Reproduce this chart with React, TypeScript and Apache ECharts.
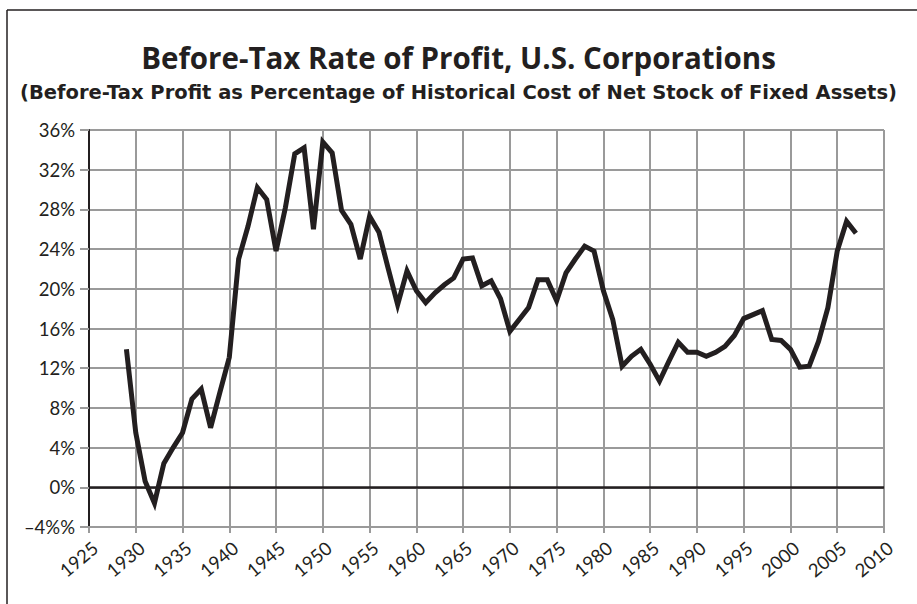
import React, { useEffect, useRef } from "react";
import * as echarts from "echarts";

const years: number[] = [
  1929, 1930, 1931, 1932, 1933, 1934, 1935, 1936, 1937, 1938, 1939, 1940,
  1941, 1942, 1943, 1944, 1945, 1946, 1947, 1948, 1949, 1950, 1951, 1952,
  1953, 1954, 1955, 1956, 1957, 1958, 1959, 1960, 1961, 1962, 1963, 1964,
  1965, 1966, 1967, 1968, 1969, 1970, 1971, 1972, 1973, 1974, 1975, 1976,
  1977, 1978, 1979, 1980, 1981, 1982, 1983, 1984, 1985, 1986, 1987, 1988,
  1989, 1990, 1991, 1992, 1993, 1994, 1995, 1996, 1997, 1998, 1999, 2000,
  2001, 2002, 2003, 2004, 2005, 2006, 2007,
];

const profitRate: number[] = [
  13.9, 5.5, 0.6, -1.6, 2.4, 4.0, 5.5, 8.9, 9.9, 6.0, 9.6, 13.1,
  23.0, 26.3, 30.2, 29.0, 23.8, 28.2, 33.6, 34.2, 26.0, 34.8, 33.7, 27.9,
  26.5, 23.0, 27.3, 25.7, 22.0, 18.4, 21.8, 19.8, 18.6, 19.6, 20.4, 21.1,
  23.0, 23.1, 20.3, 20.8, 19.0, 15.7, 16.9, 18.1, 20.9, 20.9, 18.8, 21.6,
  23.0, 24.3, 23.8, 19.8, 16.9, 12.2, 13.2, 13.9, 12.4, 10.7, 12.7, 14.6,
  13.6, 13.6, 13.2, 13.6, 14.2, 15.3, 17.0, 17.4, 17.8, 14.9, 14.8, 13.9,
  12.1, 12.2, 14.7, 18.1, 23.8, 26.8, 25.6,
];

const yTickValues: number[] = [-4, 0, 4, 8, 12, 16, 20, 24, 28, 32, 36];
const yTickLabels: string[] = ["\u20134%%", "0%", "4%", "8%", "12%", "16%", "20%", "24%", "28%", "32%", "36%"];

const titleText = "Before-Tax Rate of Profit, U.S. Corporations";
const subtitleText =
  "(Before-Tax Profit as Percentage of Historical Cost of Net Stock of Fixed Assets)";

export default function App() {
  const ref = useRef<HTMLDivElement>(null);

  useEffect(() => {
    if (!ref.current) return;
    const chart = echarts.init(ref.current, null, { renderer: "svg" });
    const gray = "#9a9a9a";
    const ink = "#231f20";
    const labelFont = "Lato, 'Open Sans', sans-serif";
    chart.setOption({
      animation: false,
      backgroundColor: "#ffffff",
      title: [
        {
          text: titleText,
          left: "center",
          top: 37,
          textStyle: {
            fontFamily: "'Open Sans', 'Noto Sans', sans-serif",
            fontWeight: "bold",
            fontSize: 29.5,
            color: ink,
          },
        },
        {
          text: subtitleText,
          left: "center",
          top: 77,
          textStyle: {
            fontFamily: "'DejaVu Sans', 'Noto Sans', sans-serif",
            fontWeight: "bold",
            fontSize: 19.5,
            color: ink,
          },
        },
      ],
      graphic: [
        {
          type: "line",
          shape: { x1: 7, y1: 10, x2: 917, y2: 10 },
          style: { stroke: ink, lineWidth: 1.5 },
        },
        {
          type: "line",
          shape: { x1: 7, y1: 10, x2: 7, y2: 604 },
          style: { stroke: ink, lineWidth: 1.5 },
        },
      ],
      grid: { left: 89, right: 33, top: 130, bottom: 77, containLabel: false },
      xAxis: {
        type: "value",
        min: 1925,
        max: 2010,
        interval: 5,
        axisLine: { show: true, onZero: false, lineStyle: { color: gray, width: 2 } },
        axisTick: { show: true, length: 6, lineStyle: { color: gray, width: 2 } },
        splitLine: { show: true, lineStyle: { color: gray, width: 2 } },
        axisLabel: {
          rotate: 40,
          margin: 11,
          verticalAlign: "top",
          fontSize: 18.5,
          fontFamily: labelFont,
          color: ink,
          formatter: (v: number) => String(v),
        },
      },
      yAxis: {
        type: "value",
        min: -4,
        max: 36,
        interval: 4,
        axisLine: { show: true, onZero: false, lineStyle: { color: ink, width: 2 } },
        axisTick: { show: true, length: 9, lineStyle: { color: gray, width: 2 } },
        splitLine: { show: true, lineStyle: { color: gray, width: 2 } },
        axisLabel: {
          margin: 14,
          fontSize: 18.5,
          fontFamily: labelFont,
          color: ink,
          formatter: (v: number) => {
            const i = yTickValues.indexOf(v);
            return i >= 0 ? yTickLabels[i] : "";
          },
        },
      },
      series: [
        {
          type: "line",
          data: years.map((y, i) => [y, profitRate[i]]),
          showSymbol: false,
          symbol: "none",
          lineStyle: { color: ink, width: 5, join: "miter", cap: "butt", miterLimit: 4 },
          z: 5,
          markLine: {
            silent: true,
            symbol: "none",
            label: { show: false },
            lineStyle: { color: ink, width: 2.5, type: "solid" },
            data: [{ yAxis: 0 }],
            z: 4,
          },
        },
      ],
    });
    return () => chart.dispose();
  }, []);

  return (
    <div
      ref={ref}
      style={{ position: "fixed", left: 0, top: 0, width: 917, height: 604, background: "#fff" }}
    />
  );
}
